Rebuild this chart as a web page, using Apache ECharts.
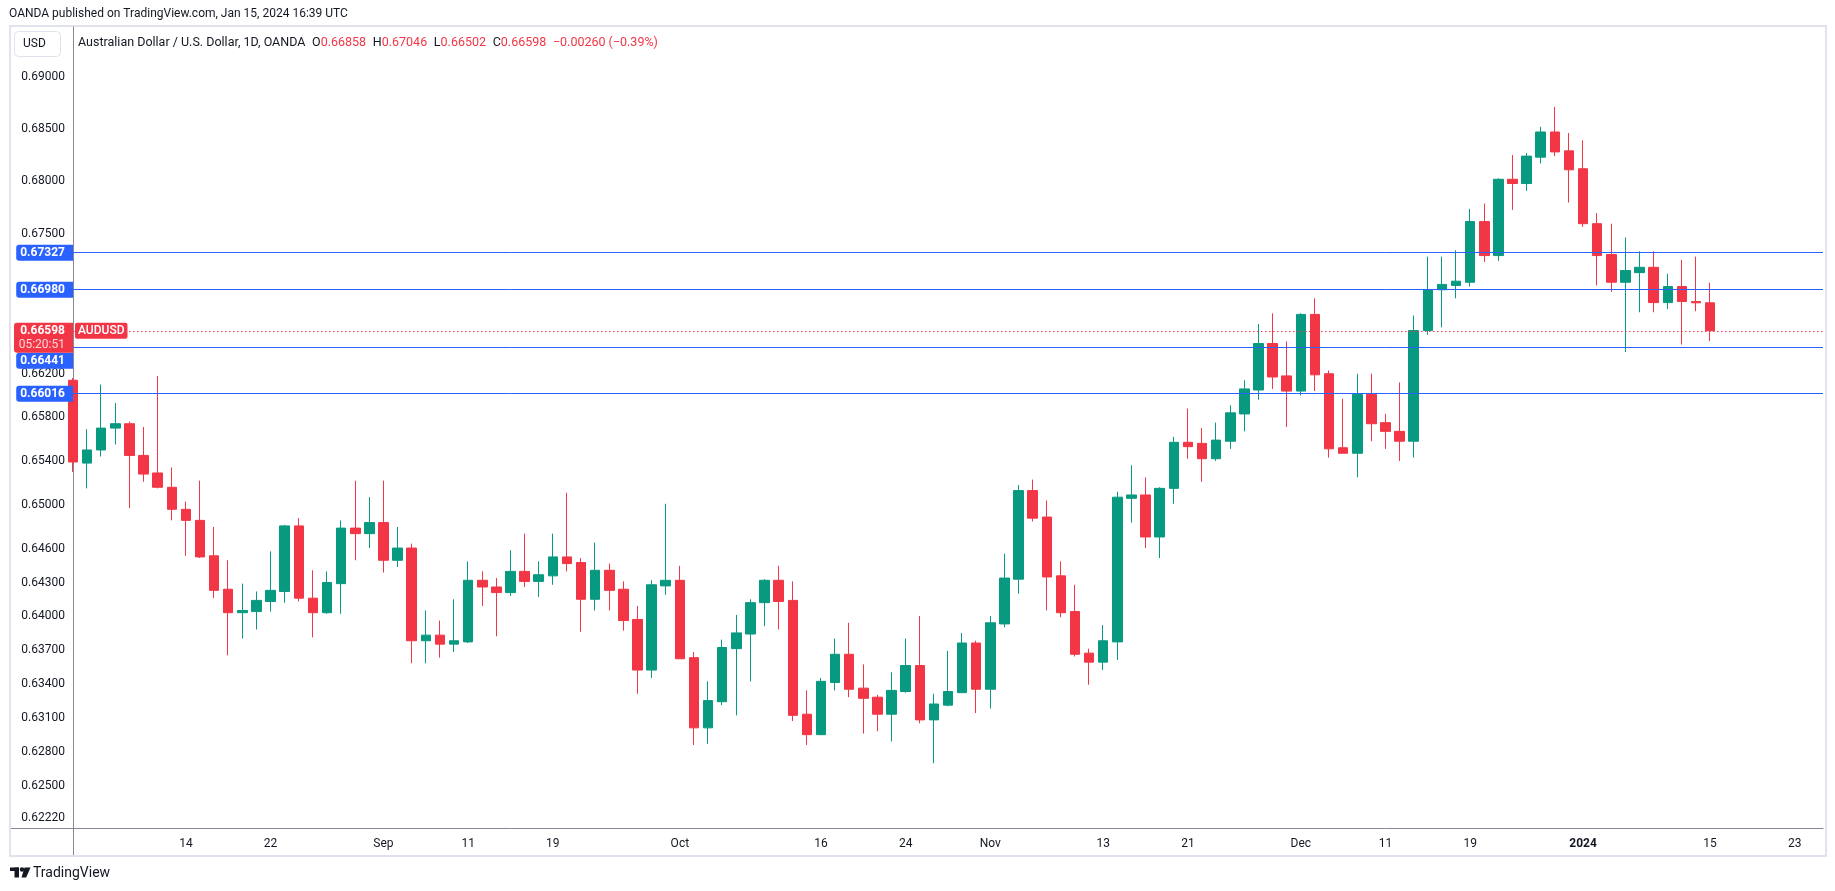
<!DOCTYPE html>
<html><head><meta charset="utf-8">
<script src="https://cdn.jsdelivr.net/npm/echarts@6/dist/echarts.min.js"></script>
<style>html,body{margin:0;padding:0;background:#fff;}#chart{width:1835px;height:891px;}</style>
</head><body><div id="chart"></div>
<script>
// ---- data ----
const dates = [
 '2023-08-02','2023-08-03','2023-08-04','2023-08-07','2023-08-08','2023-08-09','2023-08-10','2023-08-11','2023-08-14','2023-08-15',
 '2023-08-16','2023-08-17','2023-08-18','2023-08-21','2023-08-22','2023-08-23','2023-08-24','2023-08-25','2023-08-28','2023-08-29',
 '2023-08-30','2023-08-31','2023-09-01','2023-09-04','2023-09-05','2023-09-06','2023-09-07','2023-09-08','2023-09-11','2023-09-12',
 '2023-09-13','2023-09-14','2023-09-15','2023-09-18','2023-09-19','2023-09-20','2023-09-21','2023-09-22','2023-09-25','2023-09-26',
 '2023-09-27','2023-09-28','2023-09-29','2023-10-02','2023-10-03','2023-10-04','2023-10-05','2023-10-06','2023-10-09','2023-10-10',
 '2023-10-11','2023-10-12','2023-10-13','2023-10-16','2023-10-17','2023-10-18','2023-10-19','2023-10-20','2023-10-23','2023-10-24',
 '2023-10-25','2023-10-26','2023-10-27','2023-10-30','2023-10-31','2023-11-01','2023-11-02','2023-11-03','2023-11-06','2023-11-07',
 '2023-11-08','2023-11-09','2023-11-10','2023-11-13','2023-11-14','2023-11-15','2023-11-16','2023-11-17','2023-11-20','2023-11-21',
 '2023-11-22','2023-11-23','2023-11-24','2023-11-27','2023-11-28','2023-11-29','2023-11-30','2023-12-01','2023-12-04','2023-12-05',
 '2023-12-06','2023-12-07','2023-12-08','2023-12-11','2023-12-12','2023-12-13','2023-12-14','2023-12-15','2023-12-18','2023-12-19',
 '2023-12-20','2023-12-21','2023-12-22','2023-12-26','2023-12-27','2023-12-28','2023-12-29','2024-01-02','2024-01-03','2024-01-04',
 '2024-01-05','2024-01-08','2024-01-09','2024-01-10','2024-01-11','2024-01-12','2024-01-15','2024-01-16','2024-01-17','2024-01-18',
 '2024-01-19','2024-01-22','2024-01-23','2024-01-24','2024-01-25'
];
const opens = [
 0.6614,0.6538,0.6550,0.6570,0.6574,0.6545,0.6529,0.6516,0.6496,0.6486,
 0.6454,0.6424,0.6403,0.6404,0.6413,0.6422,0.6481,0.6416,0.6403,0.6429,
 0.6479,0.6474,0.6484,0.6450,0.6461,0.6378,0.6383,0.6375,0.6377,0.6432,
 0.6426,0.6421,0.6440,0.6431,0.6436,0.6453,0.6448,0.6415,0.6441,0.6424,
 0.6397,0.6352,0.6427,0.6432,0.6363,0.6301,0.6324,0.6371,0.6384,0.6412,
 0.6432,0.6414,0.6313,0.6295,0.6341,0.6366,0.6336,0.6328,0.6313,0.6333,
 0.6356,0.6308,0.6321,0.6332,0.6376,0.6335,0.6393,0.6433,0.6513,0.6489,
 0.6436,0.6404,0.6367,0.6359,0.6377,0.6506,0.6509,0.6471,0.6515,0.6557,
 0.6556,0.6542,0.6558,0.6583,0.6605,0.6648,0.6618,0.6604,0.6675,0.6620,
 0.6552,0.6547,0.6601,0.6575,0.6567,0.6558,0.6660,0.6698,0.6702,0.6705,
 0.6762,0.6730,0.6802,0.6798,0.6823,0.6847,0.6829,0.6812,0.6760,0.6731,
 0.6705,0.6714,0.6719,0.6686,0.6701,0.6687,0.66858
];
const highs = [
 0.6616,0.6569,0.6610,0.6593,0.6576,0.6571,0.6618,0.6534,0.6503,0.6522,
 0.6480,0.6450,0.6429,0.6422,0.6458,0.6482,0.6488,0.6441,0.6440,0.6486,
 0.6522,0.6507,0.6522,0.6480,0.6465,0.6405,0.6396,0.6415,0.6449,0.6440,
 0.6434,0.6459,0.6474,0.6449,0.6474,0.6511,0.6452,0.6466,0.6447,0.6431,
 0.6409,0.6432,0.6501,0.6445,0.6368,0.6342,0.6379,0.6401,0.6415,0.6433,
 0.6445,0.6431,0.6334,0.6345,0.6380,0.6394,0.6357,0.6330,0.6350,0.6380,
 0.6400,0.6331,0.6369,0.6385,0.6378,0.6400,0.6456,0.6518,0.6523,0.6504,
 0.6449,0.6428,0.6371,0.6392,0.6512,0.6536,0.6525,0.6516,0.6562,0.6588,
 0.6570,0.6575,0.6591,0.6614,0.6666,0.6676,0.6650,0.6676,0.6690,0.6623,
 0.6597,0.6620,0.6620,0.6583,0.6612,0.6674,0.6729,0.6729,0.6735,0.6774,
 0.6779,0.6803,0.6825,0.6827,0.6852,0.6871,0.6846,0.6839,0.6770,0.6760,
 0.6747,0.6734,0.6734,0.6713,0.6726,0.6729,0.67046
];
const lows = [
 0.6530,0.6515,0.6544,0.6555,0.6497,0.6521,0.6515,0.6486,0.6454,0.6452,
 0.6416,0.6365,0.6380,0.6388,0.6404,0.6412,0.6413,0.6381,0.6402,0.6402,
 0.6450,0.6461,0.6439,0.6444,0.6358,0.6358,0.6363,0.6368,0.6376,0.6409,
 0.6382,0.6418,0.6426,0.6417,0.6428,0.6440,0.6386,0.6405,0.6405,0.6387,
 0.6331,0.6345,0.6419,0.6362,0.6286,0.6287,0.6321,0.6312,0.6342,0.6391,
 0.6388,0.6307,0.6286,0.6295,0.6334,0.6328,0.6296,0.6298,0.6289,0.6332,
 0.6305,0.6270,0.6320,0.6332,0.6314,0.6318,0.6390,0.6420,0.6485,0.6405,
 0.6399,0.6364,0.6339,0.6352,0.6361,0.6484,0.6461,0.6452,0.6501,0.6542,
 0.6521,0.6540,0.6551,0.6567,0.6596,0.6606,0.6571,0.6600,0.6604,0.6543,
 0.6547,0.6525,0.6558,0.6551,0.6540,0.6543,0.6656,0.6663,0.6690,0.6701,
 0.6724,0.6725,0.6773,0.6791,0.6817,0.6824,0.6780,0.6757,0.6702,0.6696,
 0.6640,0.6677,0.6677,0.6680,0.6647,0.6678,0.66502
];
const closes = [
 0.6539,0.6550,0.6570,0.6574,0.6545,0.6528,0.6516,0.6496,0.6486,0.6453,
 0.6423,0.6403,0.6405,0.6414,0.6423,0.6481,0.6416,0.6403,0.6430,0.6479,
 0.6474,0.6484,0.6450,0.6461,0.6378,0.6383,0.6375,0.6378,0.6432,0.6426,
 0.6421,0.6440,0.6431,0.6437,0.6453,0.6447,0.6415,0.6441,0.6423,0.6396,
 0.6352,0.6428,0.6432,0.6362,0.6301,0.6325,0.6372,0.6385,0.6412,0.6432,
 0.6413,0.6312,0.6295,0.6342,0.6366,0.6335,0.6327,0.6313,0.6334,0.6356,
 0.6308,0.6322,0.6333,0.6376,0.6335,0.6394,0.6434,0.6513,0.6488,0.6435,
 0.6403,0.6366,0.6359,0.6378,0.6507,0.6509,0.6471,0.6515,0.6557,0.6553,
 0.6542,0.6559,0.6584,0.6606,0.6648,0.6617,0.6604,0.6675,0.6619,0.6551,
 0.6547,0.6601,0.6574,0.6567,0.6558,0.6660,0.6698,0.6703,0.6706,0.6762,
 0.6730,0.6802,0.6798,0.6824,0.6847,0.6828,0.6811,0.6760,0.6730,0.6705,
 0.6716,0.6719,0.6686,0.6701,0.6687,0.66858,0.66598
];
const priceTicks = [0.69,0.685,0.68,0.675,0.662,0.658,0.654,0.65,0.646,0.643,0.64,0.637,0.634,0.631,0.628,0.625,0.6222];
const levels = [0.67327,0.6698,0.66441,0.66016];
const lastPrice = 0.66598;
const countdown = '05:20:51';
const symbolName = 'AUDUSD';
const xLabelDates = ['2023-08-14','2023-08-22','2023-09-01','2023-09-11','2023-09-19','2023-10-02','2023-10-16','2023-10-24','2023-11-01','2023-11-13','2023-11-21','2023-12-01','2023-12-11','2023-12-19','2024-01-02','2024-01-15','2024-01-23'];
const xLabelTexts = ['14','22','Sep','11','19','Oct','16','24','Nov','13','21','Dec','11','19','2024','15','23'];
const yMin = 0.62136, yMax = 0.6948;

// ---- styles ----
const FONT = 'Roboto, "Liberation Sans", sans-serif';
const UP = '#089981', DOWN = '#f23645', BLUE = '#2962ff', TXT = '#131722', AXIS = '#868993', FRAME = '#e0e3eb';

const candleData = opens.map((o, i) => [o, closes[i], lows[i], highs[i]]);
const clear = {color: 'rgba(0,0,0,0)', width: 1};

const mlData = [];
priceTicks.forEach(v => mlData.push({
  yAxis: v, lineStyle: clear,
  label: {show: true, position: 'start', distance: 8, color: TXT, fontSize: 12, fontFamily: FONT, formatter: v.toFixed(5)}
}));
const boxRich = {color: '#fff', fontSize: 12, fontWeight: 'bold', fontFamily: FONT, backgroundColor: BLUE,
  padding: [2, 8, 2, 4], borderRadius: [3, 0, 0, 3], lineHeight: 12};
levels.forEach(v => {
  // a level label that would collide with the last-price label is pushed just below it
  const pushed = Math.abs(Math.log(v / lastPrice)) < 0.004;
  mlData.push({
    yAxis: v, lineStyle: {color: BLUE, width: 1, type: 'solid'},
    label: pushed
      ? {show: true, position: 'start', distance: 0, verticalAlign: 'top', align: 'right', padding: [7, 0, 0, 0],
         formatter: '{b|' + v.toFixed(5) + '}', rich: {b: boxRich}}
      : {show: true, position: 'start', distance: 0, color: '#fff', fontSize: 12, fontWeight: 'bold', fontFamily: FONT,
         backgroundColor: BLUE, padding: [2, 8, 2, 4], borderRadius: [3, 0, 0, 3], formatter: v.toFixed(5)}
  });
});
mlData.push({
  yAxis: lastPrice, lineStyle: {color: DOWN, width: 1, type: [1.5, 2.5]},
  label: {show: true, position: 'insideStart', distance: 2, color: '#fff', fontSize: 12, fontWeight: 500, fontFamily: FONT,
    backgroundColor: DOWN, padding: [2, 3, 2, 3], borderRadius: 2, formatter: symbolName}
});
mlData.push({
  yAxis: lastPrice, lineStyle: clear,
  label: {show: true, position: 'start', distance: 0, verticalAlign: 'top', color: 'rgba(255,255,255,0.8)', fontSize: 12, fontFamily: FONT,
    backgroundColor: DOWN, padding: [8, 8, 2, 4], width: 47, align: 'right', borderRadius: [0, 0, 0, 3], formatter: countdown}
});
mlData.push({
  yAxis: lastPrice, lineStyle: clear,
  label: {show: true, position: 'start', distance: 0, color: '#fff', fontSize: 12, fontWeight: 'bold', fontFamily: FONT,
    backgroundColor: DOWN, padding: [2, 8, 2, 4], width: 47, align: 'right', borderRadius: [3, 0, 0, 0], formatter: lastPrice.toFixed(5)}
});

const legendRich = '{t|Australian Dollar / U.S. Dollar, 1D, OANDA}  {t|O}{v|' + opens[opens.length-1].toFixed(5) + '}  {t|H}{v|' +
  highs[highs.length-1].toFixed(5) + '}  {t|L}{v|' + lows[lows.length-1].toFixed(5) + '}  {t|C}{v|' + closes[closes.length-1].toFixed(5) +
  '}  {v|\u22120.00260 (\u22120.39%)}';

const chart = echarts.init(document.getElementById('chart'), null, {renderer: 'canvas'});
chart.setOption({
  backgroundColor: '#ffffff',
  animation: false,
  textStyle: {fontFamily: FONT},
  grid: {left: 73, right: 12, top: 27, bottom: 63, containLabel: false, outerBoundsMode: 'none'},
  xAxis: {
    type: 'category', data: dates, boundaryGap: false,
    axisLine: {show: true, lineStyle: {color: AXIS, width: 1}},
    axisTick: {show: false}, splitLine: {show: false},
    axisLabel: {
      interval: (i, v) => xLabelDates.indexOf(v) >= 0,
      formatter: v => { const k = xLabelDates.indexOf(v); if (k < 0) return ''; return /^\d{4}$/.test(xLabelTexts[k]) ? '{b|' + xLabelTexts[k] + '}' : xLabelTexts[k]; },
      color: TXT, fontSize: 12, fontFamily: FONT, margin: 10,
      rich: {b: {fontWeight: 'bold', fontSize: 12, color: TXT, fontFamily: FONT}}
    }
  },
  yAxis: {
    type: 'log', logBase: 10, min: yMin, max: yMax, position: 'left',
    axisLine: {show: true, lineStyle: {color: AXIS, width: 1}},
    axisTick: {show: false}, axisLabel: {show: false}, splitLine: {show: false}, minorTick: {show: false}, minorSplitLine: {show: false}
  },
  series: [{
    type: 'candlestick', data: candleData, barWidth: 10, clip: true,
    itemStyle: {color: UP, color0: DOWN, borderColor: UP, borderColor0: DOWN, borderWidth: 1},
    emphasis: {disabled: true},
    markLine: {silent: true, symbol: 'none', animation: false, z: 5, precision: 5, data: mlData}
  }],
  graphic: [
    {type: 'rect', silent: true, z: 0, shape: {x: 10, y: 26, width: 1816, height: 830}, style: {fill: 'none', stroke: FRAME, lineWidth: 2}},
    {type: 'line', silent: true, z: 1, shape: {x1: 11, y1: 828.5, x2: 73, y2: 828.5}, style: {stroke: AXIS, lineWidth: 1}},
    {type: 'line', silent: true, z: 1, shape: {x1: 73.5, y1: 828, x2: 73.5, y2: 855}, style: {stroke: AXIS, lineWidth: 1}},
    {type: 'rect', silent: true, z: 1, shape: {x: 14.5, y: 31.5, width: 46, height: 25, r: 4}, style: {fill: '#fff', stroke: FRAME, lineWidth: 1}},
    {type: 'text', silent: true, z: 2, style: {x: 23, y: 44, text: 'USD', fill: TXT, font: '12px ' + FONT, verticalAlign: 'middle'}},
    {type: 'text', silent: true, z: 2, style: {x: 9, y: 14, text: 'OANDA published on TradingView.com, Jan 15, 2024 16:39 UTC', fill: TXT, font: '12px ' + FONT, verticalAlign: 'middle'}},
    {type: 'text', silent: true, z: 2, style: {x: 78, y: 43, text: legendRich, verticalAlign: 'middle',
      rich: {t: {fill: TXT, font: '12.5px ' + FONT}, v: {fill: DOWN, font: '12.5px ' + FONT}}}},
    {type: 'rect', silent: true, z: 2, shape: {x: 10, y: 867.5, width: 9, height: 3.5}, style: {fill: TXT}},
    {type: 'rect', silent: true, z: 2, shape: {x: 14.5, y: 867.5, width: 4.5, height: 10}, style: {fill: TXT}},
    {type: 'circle', silent: true, z: 2, shape: {cx: 22, cy: 869.5, r: 2.2}, style: {fill: TXT}},
    {type: 'polygon', silent: true, z: 2, shape: {points: [[24.5, 867.5], [30.5, 867.5], [26.2, 877.5], [21.5, 877.5]]}, style: {fill: TXT}},
    {type: 'text', silent: true, z: 2, style: {x: 33, y: 873, text: 'TradingView', fill: TXT, font: '14px ' + FONT, verticalAlign: 'middle'}}
  ]
});
</script></body></html>
